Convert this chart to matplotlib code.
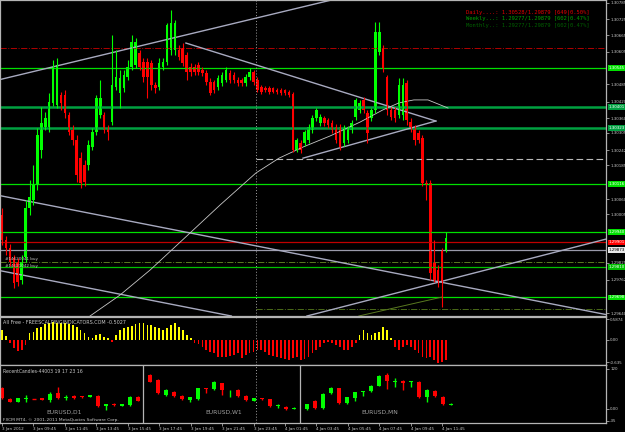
import matplotlib
matplotlib.use("Agg")
import matplotlib.pyplot as plt

# EURUSD M15, 3-4 Jan 2012
opens = [1.30002, 1.29909, 1.29880, 1.29843, 1.29828, 1.29762, 1.29847, 1.30028, 1.30057, 1.30113,
         1.30242, 1.30327, 1.30327, 1.30416, 1.30408, 1.30445, 1.30445, 1.30371, 1.30316, 1.30279,
         1.30212, 1.30187, 1.30187, 1.30253, 1.30308, 1.30371, 1.30371, 1.30323, 1.30345, 1.30475,
         1.30452, 1.30471, 1.30512, 1.30549, 1.30556, 1.30600, 1.30567, 1.30567, 1.30563, 1.30482,
         1.30475, 1.30549, 1.30567, 1.30611, 1.30611, 1.30611, 1.30619, 1.30593, 1.30549, 1.30549,
         1.30556, 1.30537, 1.30526, 1.30493, 1.30493, 1.30475, 1.30489, 1.30500, 1.30526, 1.30519,
         1.30500, 1.30500, 1.30489, 1.30512, 1.30530, 1.30500, 1.30475, 1.30471, 1.30471, 1.30471,
         1.30464, 1.30464, 1.30464, 1.30456, 1.30449, 1.30242, 1.30268, 1.30268, 1.30279, 1.30316,
         1.30360, 1.30342, 1.30360, 1.30353, 1.30342, 1.30327, 1.30327, 1.30268, 1.30279, 1.30316,
         1.30364, 1.30390, 1.30427, 1.30379, 1.30360, 1.30390, 1.30604, 1.30619, 1.30512, 1.30390,
         1.30390, 1.30371, 1.30371, 1.30489, 1.30345, 1.30323, 1.30305, 1.30286, 1.30120, 1.30120,
         1.29825, 1.29799, 1.29873, 1.29873]
highs = [1.30028, 1.29924, 1.29895, 1.29854, 1.29843, 1.29854, 1.30057, 1.30131, 1.30187, 1.30323,
         1.30401, 1.30382, 1.30452, 1.30574, 1.30582, 1.30456, 1.30464, 1.30382, 1.30334, 1.30297,
         1.30235, 1.30205, 1.30279, 1.30323, 1.30445, 1.30500, 1.30382, 1.30334, 1.30667, 1.30611,
         1.30537, 1.30537, 1.30574, 1.30667, 1.30656, 1.30611, 1.30582, 1.30582, 1.30574, 1.30493,
         1.30582, 1.30582, 1.30711, 1.30759, 1.30722, 1.30630, 1.30637, 1.30604, 1.30563, 1.30560,
         1.30567, 1.30549, 1.30537, 1.30508, 1.30500, 1.30519, 1.30530, 1.30549, 1.30537, 1.30530,
         1.30512, 1.30508, 1.30523, 1.30545, 1.30537, 1.30512, 1.30482, 1.30478, 1.30478, 1.30475,
         1.30471, 1.30471, 1.30467, 1.30464, 1.30456, 1.30286, 1.30279, 1.30316, 1.30338, 1.30371,
         1.30397, 1.30375, 1.30368, 1.30360, 1.30353, 1.30338, 1.30338, 1.30334, 1.30331, 1.30353,
         1.30434, 1.30427, 1.30438, 1.30390, 1.30397, 1.30715, 1.30715, 1.30630, 1.30519, 1.30401,
         1.30401, 1.30508, 1.30508, 1.30500, 1.30360, 1.30334, 1.30316, 1.30297, 1.30131, 1.30131,
         1.29909, 1.29817, 1.29880, 1.29939]
lows = [1.29891, 1.29854, 1.29813, 1.29732, 1.29740, 1.29747, 1.29828, 1.30002, 1.30039, 1.30094,
        1.30212, 1.30316, 1.30308, 1.30404, 1.30397, 1.30390, 1.30360, 1.30297, 1.30260, 1.30124,
        1.30102, 1.30109, 1.30168, 1.30242, 1.30297, 1.30360, 1.30305, 1.30279, 1.30334, 1.30464,
        1.30397, 1.30456, 1.30500, 1.30537, 1.30545, 1.30537, 1.30493, 1.30434, 1.30464, 1.30452,
        1.30464, 1.30537, 1.30556, 1.30593, 1.30593, 1.30574, 1.30552, 1.30500, 1.30515, 1.30519,
        1.30519, 1.30515, 1.30482, 1.30445, 1.30452, 1.30464, 1.30478, 1.30493, 1.30489, 1.30489,
        1.30478, 1.30478, 1.30478, 1.30500, 1.30482, 1.30456, 1.30449, 1.30456, 1.30449, 1.30452,
        1.30449, 1.30445, 1.30445, 1.30438, 1.30235, 1.30235, 1.30231, 1.30257, 1.30268, 1.30305,
        1.30349, 1.30331, 1.30331, 1.30323, 1.30305, 1.30268, 1.30242, 1.30257, 1.30268, 1.30305,
        1.30353, 1.30379, 1.30379, 1.30268, 1.30349, 1.30379, 1.30593, 1.30530, 1.30371, 1.30353,
        1.30345, 1.30360, 1.30353, 1.30334, 1.30308, 1.30260, 1.30268, 1.30109, 1.30057, 1.29762,
        1.29754, 1.29736, 1.29662, 1.29865]
closes = [1.29909, 1.29880, 1.29828, 1.29751, 1.29754, 1.29828, 1.30028, 1.30068, 1.30113, 1.30297,
          1.30342, 1.30360, 1.30419, 1.30549, 1.30556, 1.30416, 1.30379, 1.30308, 1.30279, 1.30150,
          1.30120, 1.30124, 1.30260, 1.30308, 1.30434, 1.30434, 1.30316, 1.30308, 1.30482, 1.30512,
          1.30508, 1.30519, 1.30549, 1.30641, 1.30641, 1.30549, 1.30512, 1.30512, 1.30482, 1.30471,
          1.30563, 1.30567, 1.30704, 1.30711, 1.30711, 1.30585, 1.30563, 1.30530, 1.30530, 1.30530,
          1.30530, 1.30526, 1.30493, 1.30452, 1.30464, 1.30508, 1.30519, 1.30537, 1.30500, 1.30500,
          1.30489, 1.30489, 1.30512, 1.30530, 1.30493, 1.30464, 1.30456, 1.30464, 1.30456, 1.30456,
          1.30456, 1.30452, 1.30452, 1.30445, 1.30242, 1.30279, 1.30242, 1.30308, 1.30327, 1.30360,
          1.30390, 1.30364, 1.30342, 1.30334, 1.30316, 1.30279, 1.30253, 1.30323, 1.30323, 1.30342,
          1.30427, 1.30416, 1.30390, 1.30305, 1.30390, 1.30678, 1.30678, 1.30545, 1.30390, 1.30364,
          1.30360, 1.30482, 1.30482, 1.30353, 1.30323, 1.30279, 1.30279, 1.30120, 1.30113, 1.29788,
          1.29762, 1.29754, 1.29754, 1.29917]

time_labels = ["3 Jan 2012", "3 Jan 09:45", "3 Jan 11:45", "3 Jan 13:45", "3 Jan 15:45",
               "3 Jan 17:45", "3 Jan 19:45", "3 Jan 21:45", "3 Jan 23:45", "4 Jan 01:45",
               "4 Jan 03:45", "4 Jan 05:45", "4 Jan 07:45", "4 Jan 09:45", "4 Jan 11:45"]
# scale labels left visible next to the level boxes
price_ticks = [1.30785, 1.30725, 1.30665, 1.30605, 1.30485, 1.30420, 1.30360, 1.30305, 1.30242,
               1.30185, 1.30060, 1.30005, 1.29825, 1.29762, 1.29640]

# oscillator "All Free"
osc = [0.28, 0.11, -0.09, -0.24, -0.30, -0.27, -0.14, 0.19, 0.24, 0.33,
       0.38, 0.45, 0.49, 0.52, 0.49, 0.49, 0.47, 0.45, 0.43, 0.38,
       0.28, 0.19, 0.09, 0.05, 0.14, 0.17, 0.09, 0.05, -0.05, 0.14,
       0.28, 0.33, 0.38, 0.40, 0.45, 0.49, 0.47, 0.43, 0.43, 0.38,
       0.33, 0.28, 0.33, 0.43, 0.47, 0.38, 0.28, 0.14, 0.05, -0.09,
       -0.11, -0.19, -0.27, -0.33, -0.38, -0.47, -0.49, -0.47, -0.45, -0.43,
       -0.38, -0.52, -0.43, -0.38, -0.33, -0.27, -0.28, -0.33, -0.43, -0.45,
       -0.47, -0.52, -0.55, -0.57, -0.52, -0.47, -0.57, -0.55, -0.47, -0.38,
       -0.28, -0.19, -0.09, -0.05, -0.08, -0.14, -0.21, -0.27, -0.27, -0.19,
       -0.09, 0.14, 0.28, 0.19, 0.14, 0.19, 0.24, 0.38, 0.28, 0.05,
       -0.19, -0.28, -0.19, -0.14, -0.19, -0.28, -0.38, -0.47, -0.52, -0.47,
       -0.57, -0.64, -0.62, -0.57]

# RecentCandles panel
d1_o = [62, 30, 22, 31, 30, 32, 27, 47, 32, 39, 39, 37, 39, 10, 14, 10, 12, 37]
d1_c = [32, 22, 32, 33, 30, 27, 45, 32, 37, 33, 35, 41, 9, 14, 11, 14, 37, 25]
d1_h = [67, 32, 34, 42, 31, 33, 50, 65, 42, 41, 40, 42, 41, 16, 18, 16, 39, 39]
d1_l = [30, 20, 20, 22, 29, 26, 22, 30, 27, 30, 33, 36, 7, -3, 9, 9, 10, 23]
w1_o = [102, 87, 42, 52, 39, 27, 29, 62, 59, 77, 45, 57, 40, 25, 32, 29, 10, 7, 1]
w1_c = [82, 47, 57, 39, 29, 35, 62, 61, 82, 57, 46, 39, 27, 32, 29, 9, 11, 0, 4]
w1_h = [104, 90, 60, 55, 41, 37, 64, 63, 85, 79, 57, 59, 43, 34, 34, 31, 14, 9, 5]
w1_l = [80, 45, 40, 37, 27, 22, 27, 49, 57, 42, 35, 37, 25, 23, 27, 7, 2, -2, 0]
mn_o = [0, 25, 2, 47, 62, 17, 34, 52, 54, 70, 101, 82, 85, 82, 81, 35, 55, 37, 13]
mn_c = [14, 2, 45, 64, 17, 35, 50, 54, 69, 99, 84, 84, 79, 84, 35, 57, 39, 15, 16]
mn_h = [16, 27, 47, 67, 64, 37, 52, 55, 71, 101, 107, 92, 87, 85, 83, 59, 57, 39, 17]
mn_l = [-2, 0, 0, 45, 15, 15, 25, 39, 52, 68, 59, 67, 57, 65, 33, 22, 37, 13, 12]

# levels and objects
bright_levels = [1.30545, 1.30116, 1.29940, 1.29698]
strong_levels = [1.30401, 1.30323]
mid_level = 1.29810
ask_price = 1.29901
bid_price = 1.29873
day_open = 1.30620
order_level = 1.29828
olive_level = 1.29655
dashed_level = 1.30209
separator_bar = 64.6
ma_bars = [22.4, 30.0, 37.7, 48.1, 55.5, 64.6, 70.5, 76.6, 83.5, 91.1, 96.9, 101.0, 104.8, 108.4, 113.5]
ma_vals = [1.29629, 1.29706, 1.29799, 1.29939, 1.30039, 1.30157, 1.30212, 1.30253, 1.30294, 1.30345,
           1.30390, 1.30416, 1.30427, 1.30427, 1.30397]
rays = [((0, 1.30504), (82.7, 1.30792)),
        ((0, 1.30072), (151.7, 1.29640)),
        ((0, 1.29795), (57.3, 1.29632)),
        ((77.6, 1.29629), (153.7, 1.29913))]
segments = [((46.8, 1.30637), (110.4, 1.30349)),
            ((76.6, 1.30212), (110.4, 1.30349))]
olive_seg = ((90.8, 1.29629), (112.0, 1.29699))

W, H = 625.0, 432.0
XL = (-0.51, 153.7)
bull, bear = "#00FF00", "#FF0000"
frame = "#B4B4B4"
lab = "#C8C8C8"
trend = "#A8AAC0"

fig = plt.figure(figsize=(6.25, 4.32), dpi=100, facecolor="black")


def px_axes(top, bottom):
    return fig.add_axes([0, 1 - bottom / H, 606 / W, (bottom - top) / H])


ax = px_axes(0, 316)
ax_ind = px_axes(317, 365)
ax_rc = px_axes(365, 423)

for a in (ax, ax_ind, ax_rc):
    a.set_facecolor("black")
    for s in a.spines.values():
        s.set_color(frame)
        s.set_linewidth(0.9)
    a.yaxis.tick_right()
    a.tick_params(axis="y", colors=lab, labelsize=2.9, length=2, width=0.5, pad=1)
    a.tick_params(axis="x", bottom=False, labelbottom=False)


def candles(a, xs, o, h, l, c, width, lw, tiny):
    for x, oo, hh, ll, cc in zip(xs, o, h, l, c):
        col = bull if cc > oo else bear
        a.vlines(x, ll, hh, color=col, lw=lw)
        if abs(cc - oo) < tiny:
            a.hlines(oo, x - width / 2, x + width / 2, color=col, lw=lw)
        else:
            a.bar(x, abs(cc - oo), bottom=min(oo, cc), width=width, color=col, lw=0)


# main chart
idx = list(range(len(opens)))
for p in bright_levels:
    ax.axhline(p, color="#00E000", lw=0.9)
for p in strong_levels:
    ax.axhline(p, color="#00A040", lw=1.8)
ax.axhline(mid_level, color="#00C000", lw=0.9)
ax.axhline(order_level, color="#5A7A20", lw=0.7, ls="-.")
ax.axhline(day_open, color="#B00000", lw=0.7, ls="-.")
ax.axhline(ask_price, color="#C00000", lw=0.9)
ax.axhline(bid_price, color="#9A9AAA", lw=0.9)
ax.hlines(dashed_level, separator_bar, XL[1], color="#B8B8B8", lw=0.8, ls=(0, (6, 3)))
ax.hlines(olive_level, separator_bar, XL[1], color="#4A6A18", lw=0.7, ls="-.")

for p1, p2 in rays:
    ax.axline(p1, p2, color=trend, lw=1.0)
for p1, p2 in segments:
    ax.plot([p1[0], p2[0]], [p1[1], p2[1]], color=trend, lw=1.0)
ax.plot([olive_seg[0][0], olive_seg[1][0]], [olive_seg[0][1], olive_seg[1][1]], color="#5A7A20", lw=0.7)
ax.plot(ma_bars, ma_vals, color="#C8C8C8", lw=0.6)

candles(ax, idx, opens, highs, lows, closes, 0.65, 0.8, 0.00001)

ax.set_xlim(*XL)
ax.set_ylim(1.29629, 1.30796)
ax.set_yticks(price_ticks)
ax.set_yticklabels([f"{p:.5f}" for p in price_ticks])

ytr = ax.get_yaxis_transform()
boxes = [(p, "#00E000", "white") for p in bright_levels]
boxes += [(p, "#00A040", "white") for p in strong_levels]
boxes += [(mid_level, "#00C000", "white"), (ask_price, "#FF0000", "white"), (bid_price, "#E8E8E8", "black")]
for p, fc, tc in boxes:
    ax.text(1.004, p, f"{p:.5f}", transform=ytr, fontsize=2.9, color=tc, va="center", ha="left",
            clip_on=False, zorder=10, bbox=dict(boxstyle="square,pad=0.2", fc=fc, ec="none"))

ax.text(5 / 606, 1.29840, "#14620041 buy", fontsize=3.0, color=lab, transform=ytr, va="center")
ax.text(5 / 606, 1.29814, "#14621042 buy", fontsize=3.0, color=lab, transform=ytr, va="center")

fig.text(466 / W, 1 - 12 / H, "Daily....: 1.30528/1.29879 [649|0.50%]", family="DejaVu Sans Mono",
         fontsize=4.0, color="#E00000", va="center")
fig.text(466 / W, 1 - 18.5 / H, "Weekly...: 1.29277/1.29879 [602|0.47%]", family="DejaVu Sans Mono",
         fontsize=4.0, color="#00A000", va="center")
fig.text(466 / W, 1 - 25 / H, "Monthly..: 1.29277/1.29879 [602|0.47%]", family="DejaVu Sans Mono",
         fontsize=4.0, color="#006000", va="center")

# oscillator panel
ax_ind.bar(idx, osc, width=0.45, color=["#FFFF00" if v > 0 else "#FF0000" for v in osc], lw=0)
ax_ind.set_xlim(*XL)
ax_ind.set_ylim(-0.710, 0.653)
ax_ind.set_yticks([0.5874, 0, -0.635])
ax_ind.set_yticklabels(["0.5874", "0.00", "-0.635"])
ax_ind.text(3 / 606, 0.93, "All Free - FREESCALPINGINDICATORS.COM -0.5027", transform=ax_ind.transAxes,
            fontsize=3.5, color=lab, va="top")

# recent candles panel
step = 2.035
candles(ax_rc, [0 + step * k for k in range(len(d1_o))], d1_o, d1_h, d1_l, d1_c, 1.0, 1.0, 0.5)
candles(ax_rc, [37.66 + step * k for k in range(len(w1_o))], w1_o, w1_h, w1_l, w1_c, 1.0, 1.0, 0.5)
candles(ax_rc, [77.6 + step * k for k in range(len(mn_o))], mn_o, mn_h, mn_l, mn_c, 1.0, 1.0, 0.5)
ax_rc.axvline(35.9, color=frame, lw=0.9)
ax_rc.axvline(75.8, color=frame, lw=0.9)
ax_rc.set_xlim(*XL)
ax_rc.set_ylim(-42, 132)
ax_rc.set_yticks([120, 0, -35])
ax_rc.set_yticklabels(["120", "0.00", "-35"])
ax_rc.text(3 / 606, 0.93, "RecentCandles-44003 19 17 23 16", transform=ax_rc.transAxes,
           fontsize=3.3, color=lab, va="top")
for cx, name in ((64, "EURUSD,D1"), (224, "EURUSD,W1"), (380, "EURUSD,MN")):
    ax_rc.text(cx / 606, 0.18, name, transform=ax_rc.transAxes, fontsize=4.3, color="#A0A0A0",
               ha="center", va="center")
ax_rc.text(3 / 606, 0.06, "FXCM MT4, \u00a9 2001-2011 MetaQuotes Software Corp.", transform=ax_rc.transAxes,
           fontsize=3.2, color=lab, va="center")

ax_rc.set_xticks(list(range(0, 8 * len(time_labels), 8)))
ax_rc.set_xticklabels(time_labels)
ax_rc.tick_params(axis="x", bottom=True, labelbottom=True, colors=lab, labelsize=3.0, length=2,
                  width=0.5, pad=1)
for t in ax_rc.get_xticklabels():
    t.set_ha("left")

for a in (ax, ax_ind, ax_rc):
    a.axvline(separator_bar, color="#A0A0A0", lw=0.7, ls=(0, (1, 2)))

fig.savefig("out.png", dpi=100, facecolor="black")
